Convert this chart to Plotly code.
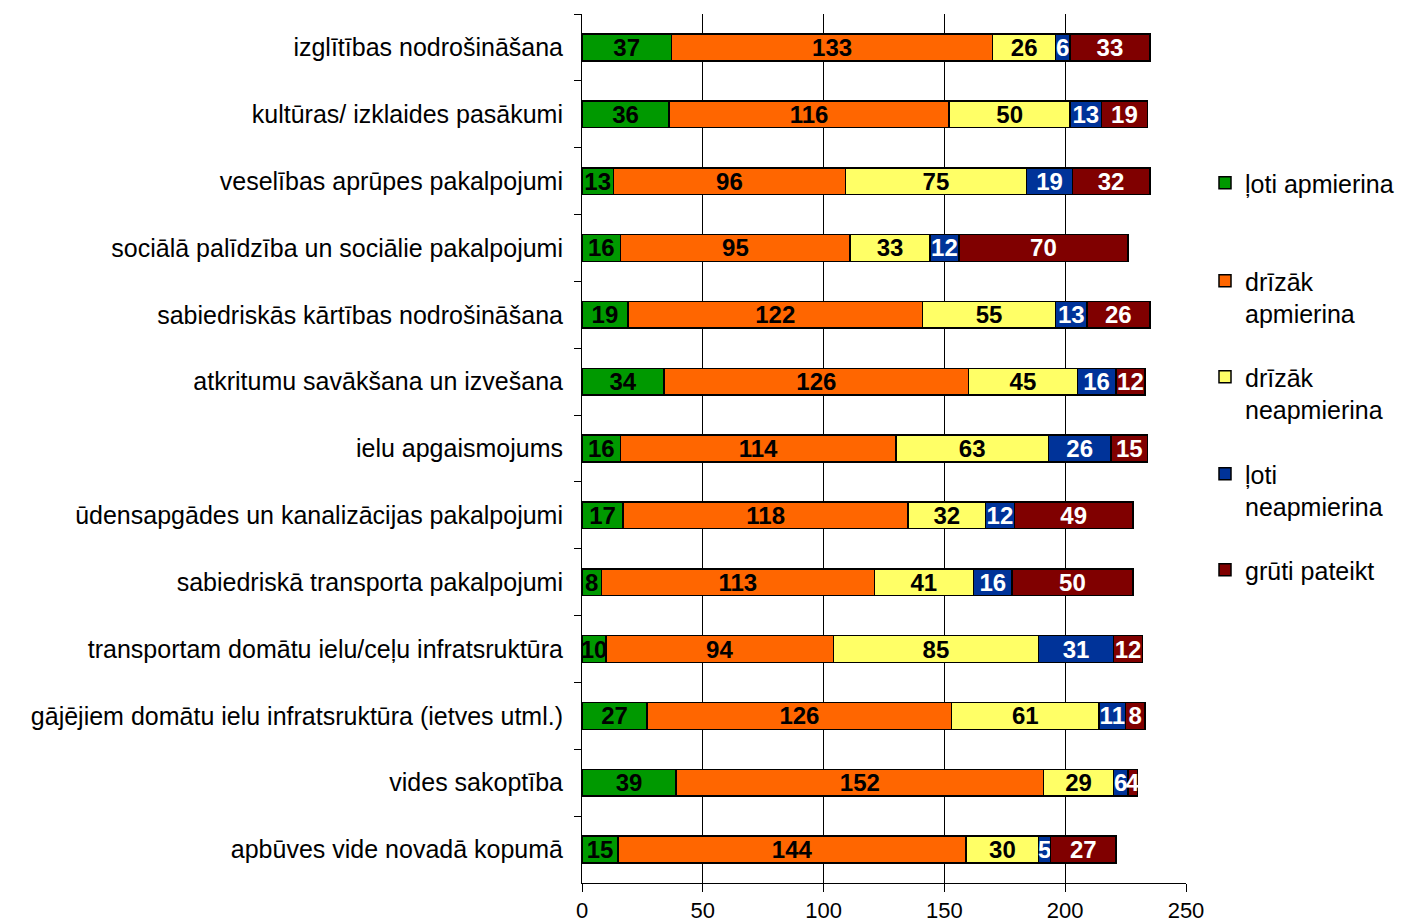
import plotly.graph_objects as go

categories = [
    "izglītības nodrošināšana",
    "kultūras/ izklaides pasākumi",
    "veselības aprūpes pakalpojumi",
    "sociālā palīdzība un sociālie pakalpojumi",
    "sabiedriskās kārtības nodrošināšana",
    "atkritumu savākšana un izvešana",
    "ielu apgaismojums",
    "ūdensapgādes un kanalizācijas pakalpojumi",
    "sabiedriskā transporta pakalpojumi",
    "transportam domātu ielu/ceļu infratsruktūra",
    "gājējiem domātu ielu infratsruktūra (ietves utml.)",
    "vides sakoptība",
    "apbūves vide novadā kopumā",
]

loti_apmierina = [37, 36, 13, 16, 19, 34, 16, 17, 8, 10, 27, 39, 15]
drizak_apmierina = [133, 116, 96, 95, 122, 126, 114, 118, 113, 94, 126, 152, 144]
drizak_neapmierina = [26, 50, 75, 33, 55, 45, 63, 32, 41, 85, 61, 29, 30]
loti_neapmierina = [6, 13, 19, 12, 13, 16, 26, 12, 16, 31, 11, 6, 5]
gruti_pateikt = [33, 19, 32, 70, 26, 12, 15, 49, 50, 12, 8, 4, 27]

series_names = ["ļoti apmierina", "drīzāk<br>apmierina", "drīzāk<br>neapmierina",
                "ļoti<br>neapmierina", "grūti pateikt"]
series_values = [loti_apmierina, drizak_apmierina, drizak_neapmierina,
                 loti_neapmierina, gruti_pateikt]
colors = ["#009900", "#FF6600", "#FFFF66", "#003399", "#800000"]
text_colors = ["black", "black", "black", "white", "white"]

x_ticks = [0, 50, 100, 150, 200, 250]

FONT = "Liberation Sans, Arial, sans-serif"

fig = go.Figure()
legend_ids = ["legend", "legend2", "legend3", "legend4", "legend5"]
for name, vals, col, tcol, lg in zip(series_names, series_values, colors, text_colors, legend_ids):
    fig.add_trace(go.Bar(
        y=categories, x=vals, orientation="h", name=name,
        marker=dict(color=col, line=dict(color="black", width=1.5)),
        text=[str(v) for v in vals], textposition="inside", textangle=0,
        insidetextanchor="middle", constraintext="none",
        textfont=dict(family=FONT, size=24, color=tcol, weight="bold"),
        legend=lg, cliponaxis=False,
    ))

W, H = 1412, 922
L, R, T, B = 582, 1412 - 1186, 14, 922 - 883
ph = H - T - B

legend_tops = [160, 258, 354, 451, 547]
legend_layout = {}
for lg, top in zip(legend_ids, legend_tops):
    legend_layout[lg] = dict(
        x=(1205 - L) / (W - L - R), xanchor="left",
        y=1 - (top - T) / ph, yanchor="top",
        font=dict(family=FONT, size=25, color="black"),
        bgcolor="rgba(0,0,0,0)", valign="top", itemwidth=30,
    )

fig.update_layout(
    width=W, height=H,
    margin=dict(l=L, r=R, t=T, b=B, pad=0, autoexpand=False),
    barmode="stack", bargap=0.6,
    plot_bgcolor="white", paper_bgcolor="white",
    font=dict(family=FONT, size=24, color="black"),
    uniformtext=dict(minsize=24, mode="show"),
    xaxis=dict(
        range=[0, 250], tickvals=x_ticks, ticktext=[str(t) for t in x_ticks],
        showgrid=True, gridcolor="black", gridwidth=1,
        zeroline=False, showline=True, linecolor="black", linewidth=1,
        ticks="outside", ticklen=8, tickcolor="black", automargin=False,
        tickfont=dict(family=FONT, size=22, color="black"),
    ),
    yaxis=dict(
        autorange="reversed", showline=True, linecolor="black", linewidth=1,
        ticks="outside", ticklen=7, tickcolor="black", tickson="boundaries",
        showgrid=False, ticklabelstandoff=13, automargin=False,
        tickfont=dict(family=FONT, size=25, color="black"),
    ),
    showlegend=True,
    **legend_layout,
)

fig.write_html(
    "out.html",
    config={"displayModeBar": False},
    post_script="document.body.style.margin='0';document.body.style.overflow='hidden';",
)
